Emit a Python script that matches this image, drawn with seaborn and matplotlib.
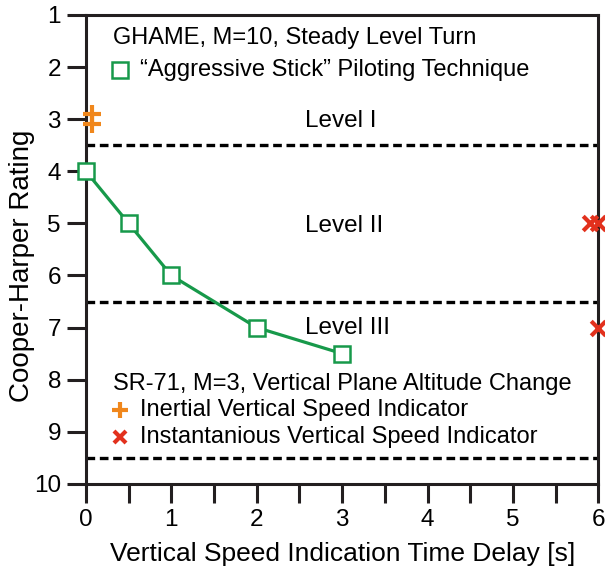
import matplotlib
matplotlib.use("Agg")
import matplotlib.pyplot as plt
import seaborn as sns
import pandas as pd
from matplotlib.ticker import MultipleLocator

# data
ghame_delay = [0, 0.5, 1, 2, 3]
ghame_rating = [4, 5, 6, 7, 7.5]
inertial_delay = [0.07, 0.07]
inertial_rating = [2.9, 3.1]
instant_delay = [5.9, 6.0, 6.0]
instant_rating = [5, 5, 7]
level_bounds = [3.5, 6.5, 9.5]
level_names = ["Level I", "Level II", "Level III"]
level_y = [3.03, 5.05, 7.0]
x_ticks = [0, 1, 2, 3, 4, 5, 6]
y_ticks = [1, 2, 3, 4, 5, 6, 7, 8, 9, 10]

sns.set_style("ticks")
plt.rcParams["font.family"] = ["Liberation Sans", "DejaVu Sans"]
plt.rcParams["text.color"] = "black"
plt.rcParams["axes.labelcolor"] = "black"
plt.rcParams["xtick.labelcolor"] = "black"
plt.rcParams["ytick.labelcolor"] = "black"

GREEN = "#17994a"
ORANGE = "#f0871c"
RED = "#e2311d"

fig = plt.figure(figsize=(6.05, 5.76), dpi=100)
ax = fig.add_axes([0.142, 0.160, 0.847, 0.814])

for yb in level_bounds:
    ax.axhline(yb, color="black", lw=2.4, ls=(0, (2.6, 1.4)), zorder=1)

df = pd.DataFrame({"delay": ghame_delay, "rating": ghame_rating})
sns.lineplot(data=df, x="delay", y="rating", ax=ax, color=GREEN, lw=2.3,
             marker="s", markersize=12, markerfacecolor="white",
             markeredgecolor=GREEN, markeredgewidth=1.8, clip_on=False, zorder=4)

sns.scatterplot(x=inertial_delay, y=inertial_rating, ax=ax, marker="+", s=170,
                color=ORANGE, linewidth=3.0, clip_on=False, zorder=5)
sns.scatterplot(x=instant_delay, y=instant_rating, ax=ax, marker="x", s=110,
                color=RED, linewidth=3.0, clip_on=False, zorder=5)

for name, yy in zip(level_names, level_y):
    ax.text(2.56, yy, name, fontsize=17.5, va="center", ha="left")

ax.text(0.315, 1.44, "GHAME, M=10, Steady Level Turn", fontsize=17, va="center")
ax.plot([0.40], [2.06], marker="s", markersize=11, markerfacecolor="white",
        markeredgecolor=GREEN, markeredgewidth=1.8, ls="none")
ax.text(0.63, 2.06, "\u201cAggressive Stick\u201d Piloting Technique", fontsize=17, va="center")

ax.text(0.315, 8.08, "SR-71, M=3, Vertical Plane Altitude Change", fontsize=17, va="center")
ax.plot([0.40], [8.58], marker="+", markersize=12, color=ORANGE, mew=3.0, ls="none")
ax.text(0.63, 8.58, "Inertial Vertical Speed Indicator", fontsize=17, va="center")
ax.plot([0.40], [9.1], marker="x", markersize=9, color=RED, mew=3.0, ls="none")
ax.text(0.63, 9.1, "Instantanious Vertical Speed Indicator", fontsize=17, va="center")

ax.set_xlim(0, 6)
ax.set_ylim(10, 1)
ax.set_xticks(x_ticks)
ax.set_yticks(y_ticks)
ax.xaxis.set_minor_locator(MultipleLocator(0.5))
ax.tick_params(axis="both", which="both", direction="out", length=14, width=2.2,
               color="#231f20", labelsize=17.5, labelcolor="black")
ax.tick_params(axis="x", pad=4)
ax.tick_params(axis="y", pad=4)
for sp in ax.spines.values():
    sp.set_visible(True)
    sp.set_linewidth(2.2)
    sp.set_color("#231f20")

ax.set_xlabel("Vertical Speed Indication Time Delay [s]", fontsize=19, labelpad=8)
ax.set_ylabel("Cooper-Harper Rating", fontsize=20)
ax.yaxis.set_label_coords(-0.10, 0.465)

fig.savefig("out.png", dpi=100)
